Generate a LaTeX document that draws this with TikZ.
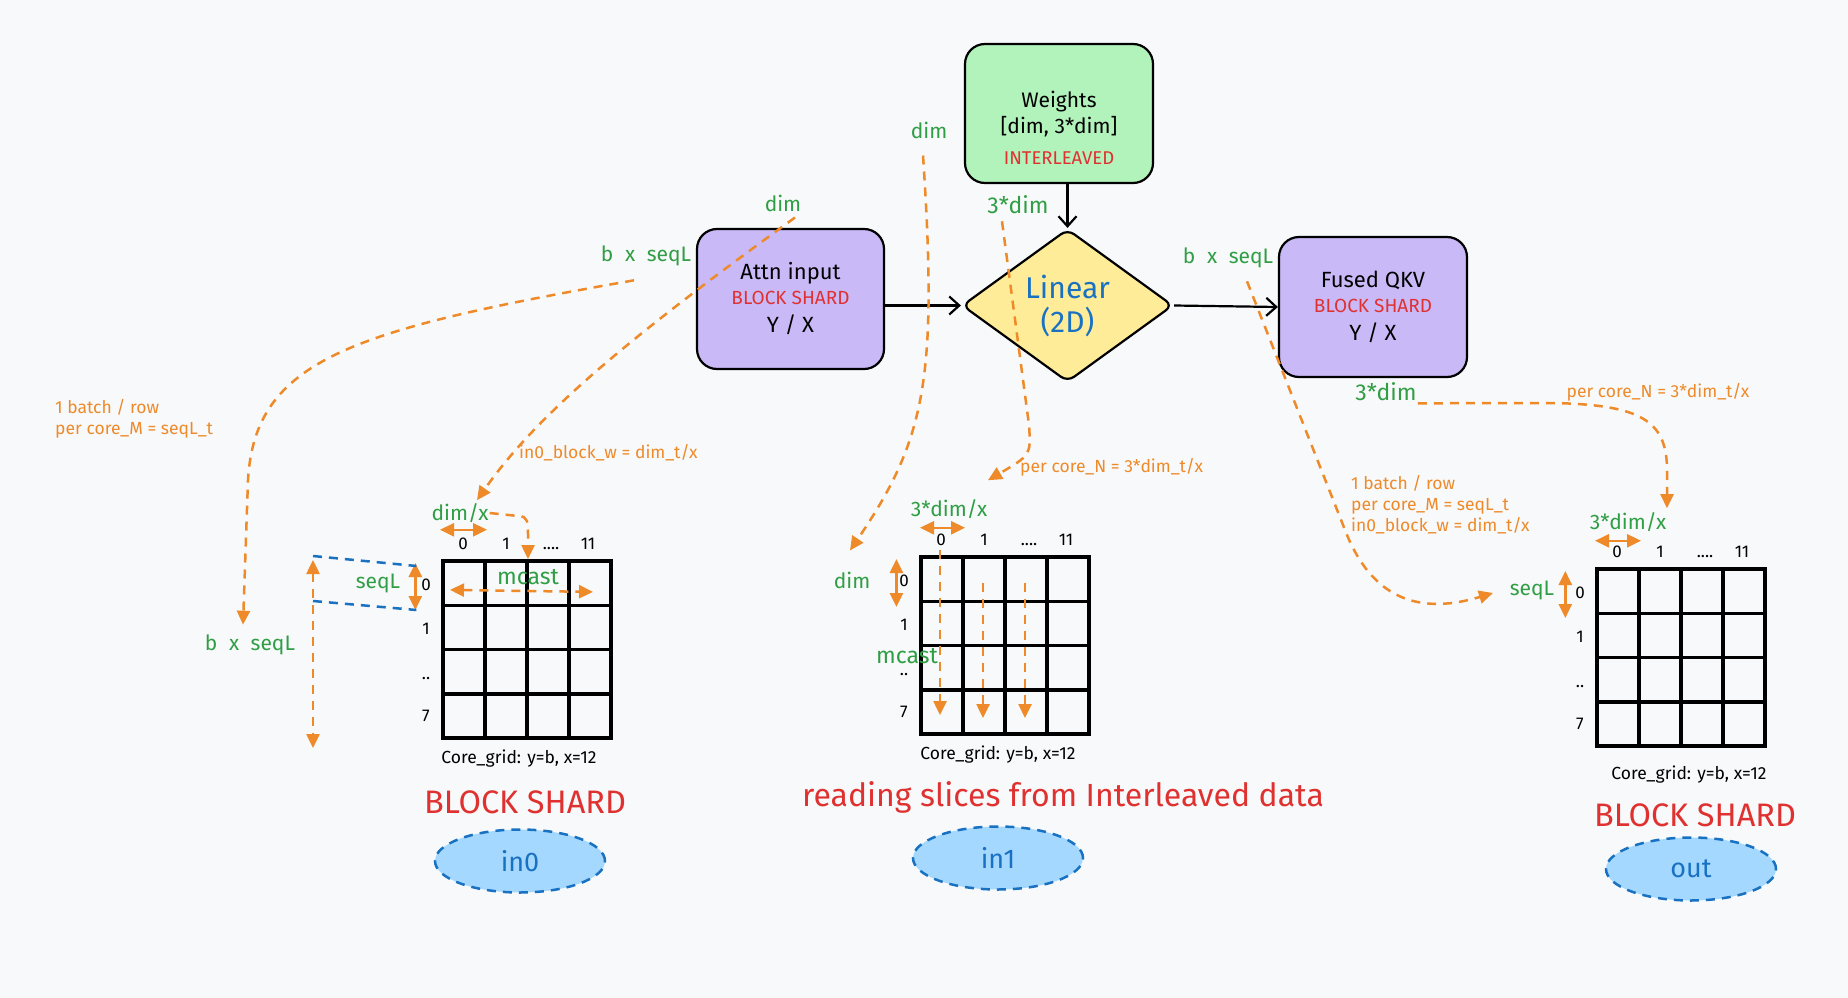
\documentclass[tikz,border=0pt]{standalone}
\usepackage{fontspec}
\setmainfont{Fira Sans}
\usetikzlibrary{arrows.meta,shapes.geometric,calc}
\definecolor{bg}{HTML}{F8F9FA}
\definecolor{ora}{HTML}{EE8A2A}
\definecolor{grn}{HTML}{2F9E44}
\definecolor{rd}{HTML}{E03131}
\definecolor{blu}{HTML}{1971C2}
\definecolor{vio}{HTML}{C9B9F7}
\definecolor{mint}{HTML}{B2F2BB}
\definecolor{yel}{HTML}{FFEC99}
\definecolor{sky}{HTML}{A5D8FF}
\newcommand{\fz}[1]{\fontsize{#1}{#1}\selectfont}
\newcommand{\wsp}{\hspace{0.55em}}
\tikzset{
  box/.style={draw=black, line width=2.2pt, rounded corners=20pt, inner sep=0pt, align=center},
  glab/.style={text=grn, font=\fz{21}, inner sep=1pt},
  olab/.style={text=ora, font=\fontsize{17.5}{21}\selectfont, align=left, inner sep=0pt},
  gnum/.style={font=\fz{17}, anchor=base, inner sep=0pt},
  odash/.style={draw=ora, line width=2.5pt, dash pattern=on 9pt off 7pt},
  osolid/.style={draw=ora, line width=2.5pt},
  ohead/.style={-{Triangle[length=14pt,width=13pt]}},
  ohead2/.style={{Triangle[length=14pt,width=13pt]}-{Triangle[length=14pt,width=13pt]}},
  barrow/.style={draw=black, line width=2.2pt, -{Straight Barb[length=10pt,width=18pt]}},
  gridln/.style={draw=black, line width=3.5pt},
  bdash/.style={draw=blu, line width=2.5pt, dash pattern=on 9pt off 7pt},
  tag/.style={ellipse, draw=blu, fill=sky, line width=2.5pt, dash pattern=on 9pt off 7pt,
    minimum width=170pt, minimum height=63pt, text=blu, font=\fz{27}},
  cgl/.style={font=\fz{17.5}},
  rlab/.style={text=rd, font=\fz{32.5}},
}
\newcommand{\coregrid}[3]{%
  \draw[gridln] (#2,#3) rectangle ++(168,177);
  \foreach \i in {1,2,3} {
    \draw[gridln] (#2+\i*42,#3) -- ++(0,177);
    \draw[gridln] (#2,#3+\i*44.25) -- ++(168,0);
  }
  \node[gnum] (#1c0) at (#2+20,#3-12) {0};
  \node[gnum] (#1c1) at (#2+63,#3-12) {1};
  \node[gnum] (#1c2) at (#2+108,#3-12) {....};
  \node[gnum] (#1c3) at (#2+145,#3-12) {11};
  \node[gnum] (#1r0) at (#2-17,#3+29) {0};
  \node[gnum] (#1r1) at (#2-17,#3+73) {1};
  \node[gnum] (#1r2) at (#2-17,#3+118) {..};
  \node[gnum] (#1r3) at (#2-17,#3+160) {7};
}
\begin{document}
\begin{tikzpicture}[x=1pt,y=-1pt]
\useasboundingbox (0,0) rectangle (1848,998);
\fill[bg] (0,0) rectangle (1848,998);

% main boxes
\node[box, fill=vio, minimum width=187pt, minimum height=140pt, font=\fz{22}] (attn) at (790.5,299)
  {Attn input\\[3pt]{\color{rd}\fz{19}BLOCK SHARD}\\[6pt]Y / X};
\node[box, fill=mint, minimum width=188pt, minimum height=139pt] (wts) at (1059,113.5) {};
\node[align=center, font=\fz{21}] (wtstxt) at (1059,128)
  {Weights\\[4pt]{[}dim, 3*dim{]}\\[10pt]{\color{rd}\fz{18.5}INTERLEAVED}};
\node[diamond, draw=black, fill=yel, line width=2.2pt, minimum width=211pt, minimum height=153pt,
  inner sep=0pt, rounded corners=8pt, align=center, text=blu, font=\fz{30}] (lin) at (1067.5,305.5)
  {Linear\\[4pt](2D)};
\node[box, fill=vio, minimum width=188pt, minimum height=140pt, font=\fz{22}] (qkv) at (1373,307)
  {Fused QKV\\[3pt]{\color{rd}\fz{19}BLOCK SHARD}\\[6pt]Y / X};

\draw[barrow] (attn.east |- lin.west) -- (lin.west);
\draw[barrow] (wts.south -| lin.north) -- (lin.north);
\draw[barrow] (lin.east) -- (qkv.west);

% grids
\coregrid{g0}{443}{561}
\coregrid{g1}{921}{557}
\coregrid{g2}{1597}{569}
\node[cgl] (cg0) at (519,759) {Core\_grid: y=b, x=12};
\node[cgl] (cg1) at (998,755) {Core\_grid: y=b, x=12};
\node[cgl] (cg2) at (1689,775) {Core\_grid: y=b, x=12};

% green labels
\node[glab] (dimA) at (783,203) {dim};
\node[glab] (bsA) at (646,256) {b\wsp x\wsp seqL};
\node[glab] (dimW) at (929,130) {dim};
\node[glab, font=\fz{23}] (tdW) at (1018,205) {3*dim};
\node[glab] (bsQ) at (1228,258) {b\wsp x\wsp seqL};
\node[glab, font=\fz{23}] (tdQ) at (1386,392) {3*dim};
\node[glab] (dimx0) at (460,513) {dim/x};
\node[glab] (seq0) at (378,583) {seqL};
\node[glab, font=\fz{23}] (mc0) at (528,577) {mcast};
\node[glab] (bs0) at (250,645) {b\wsp x\wsp seqL};
\node[glab] (tdx1) at (949,509) {3*dim/x};
\node[glab] (dim1) at (852,580) {dim};
\node[glab, font=\fz{23}] (mc1) at (907,656) {mcast};
\node[glab] (tdx2) at (1628,522) {3*dim/x};
\node[glab] (seq2) at (1532,590) {seqL};

% orange labels
\node[olab, anchor=west] (ol1) at (55,418.5) {1 batch / row\\per core\_M = seqL\_t};
\node[olab, anchor=west] (ol2) at (519,453) {in0\_block\_w = dim\_t/x};
\node[olab, anchor=west] (ol3) at (1020,467) {per core\_N = 3*dim\_t/x};
\node[olab, anchor=west] (ol4) at (1351,505) {1 batch / row\\per core\_M = seqL\_t\\in0\_block\_w = dim\_t/x};
\node[olab] (ol5) at (1658,392) {per core\_N = 3*dim\_t/x};

% red labels and tags
\node[rlab] (bsl0) at (525,802) {BLOCK SHARD};
\node[rlab, font=\fz{32}] (rsl) at (1063,797) {reading slices from Interleaved data};
\node[rlab] (bsl2) at (1695,815) {BLOCK SHARD};
\node[tag] (in0) at (520,861) {in0};
\node[tag] (in1) at (998,858) {in1};
\node[tag] (out) at (1691,869) {out};

% ---- left grid connectors
\coordinate (g0top) at (528,559);
\draw[odash, ohead] ($(bsA.south)+(-12,13)$) .. controls (350,330) and (255,360) .. (248,480) -- ($(bs0.north)+(-7,-9)$);
\draw[odash, ohead] ($(dimA.south)+(12,5)$) .. controls (640,330) and (540,410) .. ($(dimx0.north)+(17,-2)$);
\draw[odash, ohead] (dimx0.east) -- (518,516) .. controls (528,516) and (528,522) .. (528,535) -- (g0top);
\draw[osolid, ohead2] ($(dimx0.south)+(-20,6)$) -- ($(dimx0.south)+(27,6)$);
\draw[osolid, ohead2] ($(seq0.east)+(14,-20)$) -- ($(seq0.east)+(14,27)$);
\draw[bdash] (313,556) -- ($(seq0.east)+(15,-17)$);
\draw[bdash] (313,601) -- ($(seq0.east)+(15,27)$);
\draw[odash, ohead2] (313,560) -- (313,748);
\draw[odash, ohead2] ($(mc0.south)+(-78,4)$) -- ($(mc0.south)+(65,6)$);

% ---- middle grid connectors
\draw[odash, ohead] ($(dimW.south)+(-6,16)$) .. controls (938,380) and (925,440) .. ($(dim1.north)+(-2,-20)$);
\draw[odash, ohead] ($(tdW.south)+(-16,6)$) -- (1029,425) .. controls (1031,455) .. ($(tdx1.north)+(39,-18)$);
\draw[osolid, ohead2] ($(tdx1.south)+(-29,8)$) -- ($(tdx1.south)+(16,8)$);
\draw[osolid, ohead2] ($(dim1.east)+(25,-21)$) -- ($(dim1.east)+(25,27)$);
\draw[odash, ohead] (940,550) -- (940,715);
\draw[odash, ohead] (983,583) -- (983,718);
\draw[odash, ohead] (1025,583) -- (1025,718);

% ---- right grid connectors
\coordinate (seq2in) at (1493,593);
\draw[odash, ohead] ($(tdQ.south east)+(0,1)$) -- (1554,403) .. controls (1640,405) and (1667,420) .. (1667,470) -- ($(tdx2.north)+(39,-3)$);
\draw[odash, ohead] ($(bsQ.south)+(19,12)$) -- (1345,530) .. controls (1372,600) and (1420,615) .. (seq2in);
\draw[osolid, ohead2] ($(tdx2.south)+(-33,8)$) -- ($(tdx2.south)+(13,8)$);
\draw[osolid, ohead2] ($(seq2.east)+(10,-19)$) -- ($(seq2.east)+(10,28)$);
\end{tikzpicture}
\end{document}
